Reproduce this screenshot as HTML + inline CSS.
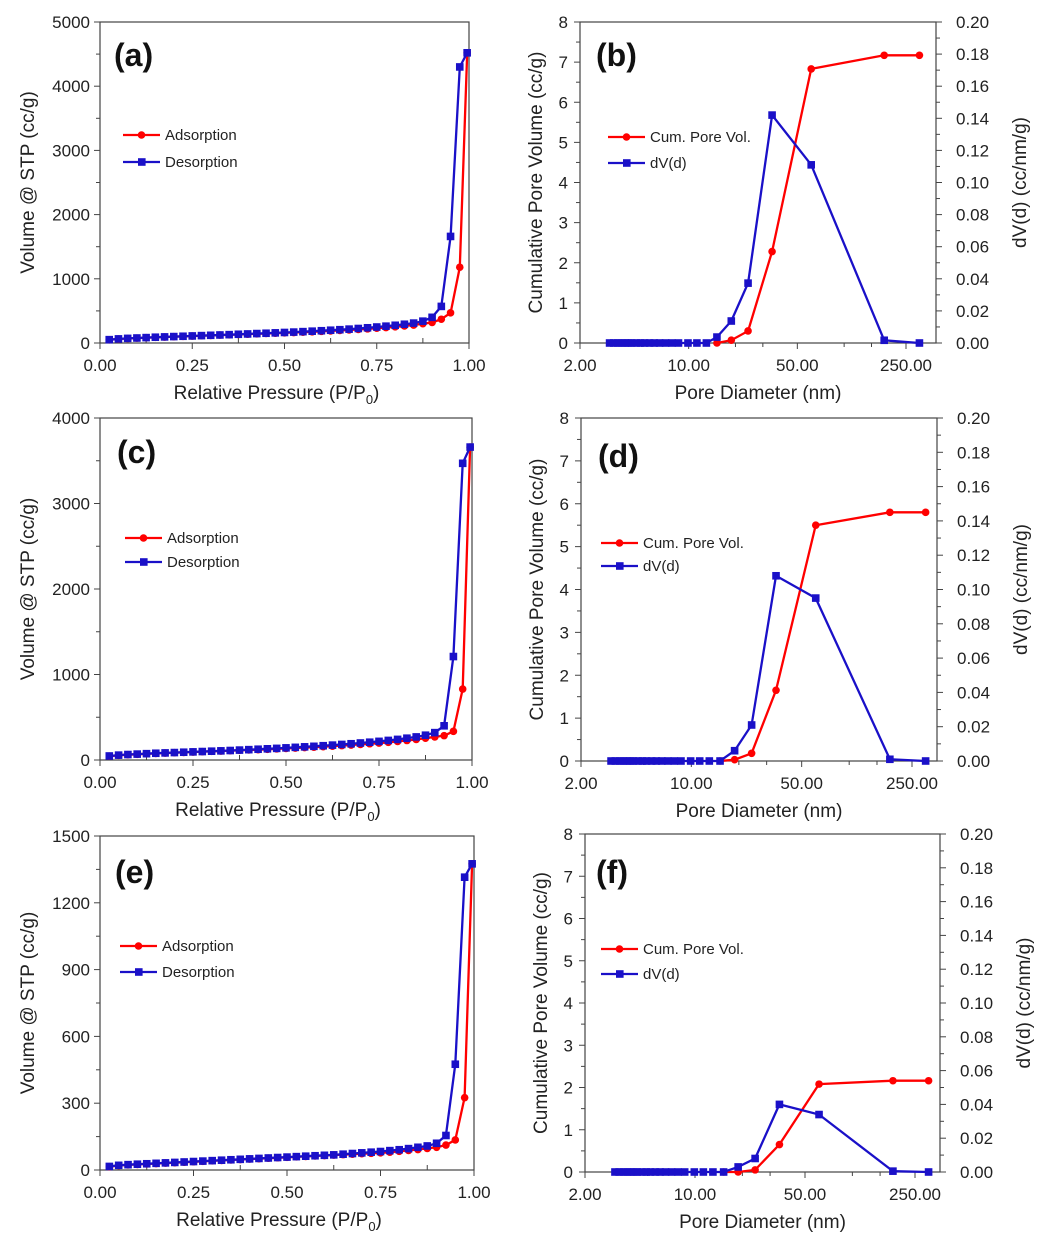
<!DOCTYPE html>
<html><head><meta charset="utf-8"><style>
body{margin:0;background:#fff}
svg{display:block;font-family:"Liberation Sans",Arial,sans-serif}
</style></head><body>
<svg id="fig" width="1050" height="1256" viewBox="0 0 1050 1256" xmlns="http://www.w3.org/2000/svg"></svg>
<script>
// ---------- data ----------
const pressure = [0.025,0.05,0.075,0.1,0.125,0.15,0.175,0.2,0.225,0.25,0.275,0.3,0.325,0.35,0.375,0.4,0.425,0.45,0.475,0.5,0.525,0.55,0.575,0.6,0.625,0.65,0.675,0.7,0.725,0.75,0.775,0.8,0.825,0.85,0.875,0.9,0.925,0.95,0.975,0.995];
const adsA = [50,62,70,76,82,88,93,98,103,108,113,118,123,128,133,138,143,148,153,158,163,169,175,181,188,195,203,211,220,230,240,252,265,280,300,320,370,470,1180,4520];
const desA = [52,64,72,78,84,90,95,100,105,110,115,120,125,130,136,141,147,152,158,164,170,177,184,191,199,207,216,226,237,249,262,276,292,310,340,400,570,1660,4300,4520];
const adsC = [45,55,62,67,72,77,81,85,89,93,97,101,105,109,113,117,121,125,130,135,140,145,150,156,162,168,175,182,190,198,207,217,228,240,255,270,285,335,830,3660];
const desC = [47,57,64,69,74,79,83,87,91,95,99,103,107,111,116,121,126,131,136,142,148,154,160,167,174,182,190,199,208,218,229,241,255,270,290,320,400,1210,3470,3660];
const adsE = [15,20,23,25,27,29,31,33,35,37,39,41,43,45,47,49,51,53,55,57,59,61,63,65,67,69,71,73,75,77,80,84,88,92,97,102,112,135,325,1375];
const desE = [16,21,24,26,28,30,32,34,36,38,40,42,44,46,48,50,52,54,56,58,60,62,64,66,68,71,74,77,80,83,87,91,96,102,108,120,155,475,1315,1375];

const diam = [3.1,3.3,3.5,3.7,3.9,4.1,4.3,4.6,4.9,5.2,5.6,6.0,6.5,7.1,7.8,8.6,9.9,11.3,13.0,15.2,18.8,24.1,34.4,61.4,181,305];
const dvB = [0,0,0,0,0,0,0,0,0,0,0,0,0,0,0,0,0,0,0,0.0037,0.0137,0.0373,0.142,0.111,0.0017,0];
const dvD = [0,0,0,0,0,0,0,0,0,0,0,0,0,0,0,0,0,0,0,0,0.006,0.021,0.108,0.095,0.001,0];
const dvF = [0,0,0,0,0,0,0,0,0,0,0,0,0,0,0,0,0,0,0,0,0.003,0.008,0.040,0.034,0.0005,0];
const cumDiam = [15.2,18.8,24.1,34.4,61.4,181,305];
const cumB = [0,0.07,0.3,2.28,6.83,7.17,7.17];
const cumD = [0,0.03,0.18,1.65,5.5,5.8,5.8];
const cumF = [0,0,0.05,0.65,2.08,2.16,2.16];

const isoXTicks = [0,0.25,0.5,0.75,1];
const isoXLabels = ["0.00","0.25","0.50","0.75","1.00"];
const poreXTicks = [2,10,50,250];
const poreXLabels = ["2.00","10.00","50.00","250.00"];
const leftTicksPore = [0,1,2,3,4,5,6,7,8];
const rightTicksPore = [0,0.02,0.04,0.06,0.08,0.1,0.12,0.14,0.16,0.18,0.2];

// ---------- helpers ----------
const svg = document.getElementById('fig');
const NS = 'http://www.w3.org/2000/svg';
function mk(tag, attrs, parent){
  const e = document.createElementNS(NS, tag);
  for (const k in attrs) e.setAttribute(k, attrs[k]);
  (parent||svg).appendChild(e);
  return e;
}
function txt(s, attrs, parent){ const t = mk('text', attrs, parent); t.textContent = s; return t; }
const RED='#ff0000', BLUE='#1a10c8', AX='#444';
const TF = 17, TT = 19;

function series(g, xs, ys, fx, fy, color, shape, name){
  const sg = mk('g', {}, g);
  
  
  const pts = xs.map((x,i)=>fx(x).toFixed(1)+','+fy(ys[i]).toFixed(1)).join(' ');
  mk('polyline',{points:pts,fill:'none',stroke:color,'stroke-width':2.3}, sg);
  xs.forEach((x,i)=>{
    let m;
    if(shape==='c') m = mk('circle',{cx:fx(x),cy:fy(ys[i]),r:3.8,fill:color}, sg);
    else m = mk('rect',{x:fx(x)-3.8,y:fy(ys[i])-3.8,width:7.6,height:7.6,fill:color}, sg);
    
    
  });
}
function legend(g, x, y1, y2, l1, l2, n1, n2){
  const lg = mk('g', {}, g);
  
  
  [[y1,RED,l1,'c',n1],[y2,BLUE,l2,'s',n2]].forEach(([y,c,l,s,n])=>{
    const e = mk('g',{},lg);
    
    
    mk('line',{x1:x,y1:y,x2:x+37,y2:y,stroke:c,'stroke-width':2.3},e);
    if(s==='c') mk('circle',{cx:x+18.5,cy:y,r:3.8,fill:c},e);
    else mk('rect',{x:x+15,y:y-3.8,width:7.6,height:7.6,fill:c},e);
    txt(l,{x:x+42,y:y+5,'font-size':15,fill:'#222'},e);
  });
}

function iso(p){
  const g = mk('g',{});
  
  
  const fx = v => p.x0 + v*(p.x1-p.x0);
  const fy = v => p.y1 - v/p.ymax*(p.y1-p.y0);
  mk('rect',{x:p.x0,y:p.y0,width:p.x1-p.x0,height:p.y1-p.y0,fill:'none',stroke:AX,'stroke-width':1.2},g);
  isoXTicks.forEach((t,i)=>{
    mk('line',{x1:fx(t),y1:p.y1,x2:fx(t),y2:p.y1+6,stroke:AX},g);
    if(i<4) mk('line',{x1:fx(t+0.125),y1:p.y1,x2:fx(t+0.125),y2:p.y1-5,stroke:AX},g);
    txt(isoXLabels[i],{x:fx(t),y:p.y1+28,'font-size':TF,'text-anchor':'middle',fill:'#222'},g);
  });
  for(let v=0; v<=p.ymax+1e-9; v+=p.ystep){
    mk('line',{x1:p.x0-6,y1:fy(v),x2:p.x0,y2:fy(v),stroke:AX},g);
    if(v+p.ystep/2<p.ymax) mk('line',{x1:p.x0-4,y1:fy(v+p.ystep/2),x2:p.x0,y2:fy(v+p.ystep/2),stroke:AX},g);
    txt(String(Math.round(v)),{x:p.x0-10,y:fy(v)+6,'font-size':TF,'text-anchor':'end',fill:'#222'},g);
  }
  const xt = txt('Relative Pressure (P/P',{x:(p.x0+p.x1)/2-8,y:p.y1+56,'font-size':TT,'text-anchor':'middle',fill:'#222'},g);
   
  const sub = mk('tspan',{dy:5,'font-size':13},xt); sub.textContent='0';
  const sp = mk('tspan',{dy:-5},xt); sp.textContent=')';
  const yt = txt('Volume @ STP (cc/g)',{x:0,y:0,'font-size':TT,'text-anchor':'middle',fill:'#222',transform:`translate(${p.x0-66},${(p.y0+p.y1)/2}) rotate(-90)`},g);
   
  const pl = txt('('+p.id+')',{x:p.lx,y:p.ly,'font-size':32,'font-weight':'bold',fill:'#111'},g);
   
  series(g, pressure, p.ads, fx, fy, RED, 'c', 'adsorption-series');
  series(g, pressure, p.des, fx, fy, BLUE, 's', 'desorption-series');
  legend(g, p.legx, p.legy1, p.legy2, 'Adsorption', 'Desorption', 'adsorption', 'desorption');
}

function pore(p){
  const g = mk('g',{});
  
  
  const dec = (p.x250 - p.x2)/Math.log10(125);
  const fx = d => p.x2 + Math.log10(d/2)*dec;
  const fyL = v => p.y1 - v/8*(p.y1-p.y0);
  const fyR = v => p.y1 - v/0.2*(p.y1-p.y0);
  mk('rect',{x:p.x0,y:p.y0,width:p.x1-p.x0,height:p.y1-p.y0,fill:'none',stroke:AX,'stroke-width':1.2},g);
  poreXTicks.forEach((t,i)=>{
    mk('line',{x1:fx(t),y1:p.y1,x2:fx(t),y2:p.y1+6,stroke:AX},g);
    txt(poreXLabels[i],{x:fx(t),y:p.y1+28,'font-size':TF,'text-anchor':'middle',fill:'#222'},g);
  });
  [5,20,30,100,150,400].forEach(t=>{ if(fx(t)<p.x1) mk('line',{x1:fx(t),y1:p.y1,x2:fx(t),y2:p.y1+4,stroke:AX},g); });
  leftTicksPore.forEach(v=>{
    mk('line',{x1:p.x0-6,y1:fyL(v),x2:p.x0,y2:fyL(v),stroke:AX},g);
    if(v<8) mk('line',{x1:p.x0-4,y1:fyL(v+0.5),x2:p.x0,y2:fyL(v+0.5),stroke:AX},g);
    txt(String(v),{x:p.x0-12,y:fyL(v)+6,'font-size':TF,'text-anchor':'end',fill:'#222'},g);
  });
  rightTicksPore.forEach((v,i)=>{
    mk('line',{x1:p.x1,y1:fyR(v),x2:p.x1+6,y2:fyR(v),stroke:AX},g);
    if(i<10) mk('line',{x1:p.x1,y1:fyR(v+0.01),x2:p.x1+4,y2:fyR(v+0.01),stroke:AX},g);
    txt(v.toFixed(2),{x:p.x1+20,y:fyR(v)+6,'font-size':TF,fill:'#222'},g);
  });
  const xt = txt('Pore Diameter (nm)',{x:(p.x0+p.x1)/2,y:p.y1+56,'font-size':TT,'text-anchor':'middle',fill:'#222'},g);
   
  const yl = txt('Cumulative Pore Volume (cc/g)',{x:0,y:0,'font-size':TT,'text-anchor':'middle',fill:'#222',transform:`translate(${p.x0-38},${(p.y0+p.y1)/2}) rotate(-90)`},g);
   
  const yr = txt('dV(d) (cc/nm/g)',{x:0,y:0,'font-size':TT,'text-anchor':'middle',fill:'#222',transform:`translate(${p.x1+90},${(p.y0+p.y1)/2}) rotate(-90)`},g);
   
  const pl = txt('('+p.id+')',{x:p.lx,y:p.ly,'font-size':32,'font-weight':'bold',fill:'#111'},g);
   
  series(g, cumDiam, p.cum, fx, fyL, RED, 'c', 'cum-pore-volume-series');
  series(g, diam, p.dv, fx, fyR, BLUE, 's', 'dvd-series');
  legend(g, p.legx, p.legy1, p.legy2, 'Cum. Pore Vol.', 'dV(d)', 'cum-pore-vol', 'dvd');
}

iso({id:'a',x0:100,x1:469,y0:22,y1:343,ymax:5000,ystep:1000,ads:adsA,des:desA,lx:114,ly:66,legx:123,legy1:135,legy2:162});
iso({id:'c',x0:100,x1:472,y0:418,y1:760,ymax:4000,ystep:1000,ads:adsC,des:desC,lx:117,ly:463,legx:125,legy1:538,legy2:562});
iso({id:'e',x0:100,x1:474,y0:836,y1:1170,ymax:1500,ystep:300,ads:adsE,des:desE,lx:115,ly:883,legx:120,legy1:946,legy2:972});
pore({id:'b',x0:580,x1:936,y0:22,y1:343,x2:580,x250:906,cum:cumB,dv:dvB,lx:596,ly:66,legx:608,legy1:137,legy2:163});
pore({id:'d',x0:581,x1:937,y0:418,y1:761,x2:581,x250:912,cum:cumD,dv:dvD,lx:598,ly:467,legx:601,legy1:543,legy2:566});
pore({id:'f',x0:585,x1:940,y0:834,y1:1172,x2:585,x250:915,cum:cumF,dv:dvF,lx:596,ly:883,legx:601,legy1:949,legy2:974});
</script>
</body></html>
